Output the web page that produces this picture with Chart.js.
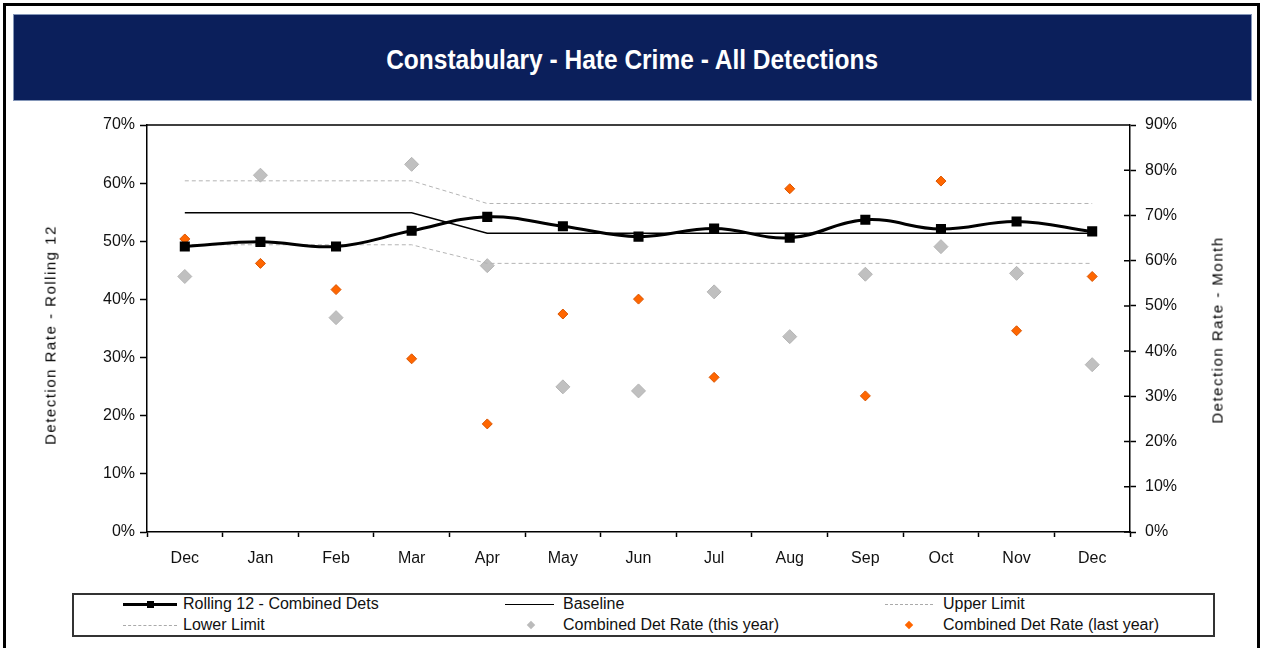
<!DOCTYPE html>
<html>
<head>
<meta charset="utf-8">
<script src="https://cdn.jsdelivr.net/npm/chart.js@4.4.1/dist/chart.umd.min.js"></script>
<style>
  body { margin: 0; width: 1261px; height: 648px; overflow: hidden; background: #fff; position: relative;
         font-family: 'Liberation Sans', Arial, sans-serif; }
  #frame { position: absolute; left: 3px; top: 3px; width: 1251px; height: 700px; border: 3px solid #000; }
  #title { position: absolute; left: 13px; top: 14px; width: 1237px; height: 85px; background: #0b1f5b;
           border: 1px solid #8496b8; display: flex; align-items: center; justify-content: center; }
  #title span { color: #fff; font-weight: bold; font-size: 28px; transform: scaleX(0.875);
                display: inline-block; white-space: nowrap; margin-top: 5px; }
  #wrap { position: absolute; left: 0; top: 101px; width: 1261px; height: 489px; }
  .ytitle { position: absolute; transform: translate(-50%, -50%) rotate(-90deg); white-space: nowrap;
            font-size: 15px; letter-spacing: 1.5px; color: #000; }
  #legend { position: absolute; left: 72px; top: 593px; width: 1139px; height: 40px; border: 2px solid #333; }
  .lt { position: absolute; font-size: 16px; line-height: 18px; color: #111; white-space: nowrap; }
  .ls { position: absolute; }
</style>
</head>
<body>
<div id="frame"></div>
<div id="title"><span>Constabulary - Hate Crime - All Detections</span></div>
<div id="wrap"><canvas id="chart" width="1261" height="489"></canvas></div>
<div class="ytitle" style="left:50px;top:335px">Detection Rate - Rolling 12</div>
<div class="ytitle" style="left:1217px;top:330px">Detection Rate - Month</div>

<div id="legend"></div>
<div class="ls" style="left:123px;top:603px;width:54px;height:3px;background:#000"></div>
<div class="ls" style="left:147px;top:601px;width:7px;height:7px;background:#000"></div>
<div class="lt" style="left:183px;top:595px">Rolling 12 - Combined Dets</div>
<div class="ls" style="left:505px;top:604px;width:49px;height:0;border-top:1.5px solid #000"></div>
<div class="lt" style="left:563px;top:595px">Baseline</div>
<div class="ls" style="left:885px;top:604px;width:48px;height:0;border-top:1px dashed #aaa"></div>
<div class="lt" style="left:943px;top:595px">Upper Limit</div>
<div class="ls" style="left:123px;top:625px;width:54px;height:0;border-top:1px dashed #aaa"></div>
<div class="lt" style="left:183px;top:616px">Lower Limit</div>
<div class="ls" style="left:528px;top:622px;width:6px;height:6px;background:#bbb;transform:rotate(45deg)"></div>
<div class="lt" style="left:563px;top:616px">Combined Det Rate (this year)</div>
<div class="ls" style="left:906px;top:622px;width:6px;height:6px;background:#f60;transform:rotate(45deg)"></div>
<div class="lt" style="left:943px;top:616px">Combined Det Rate (last year)</div>

<script>
'use strict';

const months = ['Dec', 'Jan', 'Feb', 'Mar', 'Apr', 'May', 'Jun', 'Jul', 'Aug', 'Sep', 'Oct', 'Nov', 'Dec'];
// left axis (%)
const rolling12 = [49.1, 49.9, 49.1, 51.8, 54.2, 52.6, 50.8, 52.2, 50.6, 53.7, 52.1, 53.4, 51.7];
const baseline = [54.9, 54.9, 54.9, 54.9, 51.4, 51.4, 51.4, 51.4, 51.4, 51.4, 51.4, 51.4, 51.4];
const upperLimit = [60.4, 60.4, 60.4, 60.4, 56.5, 56.5, 56.5, 56.5, 56.5, 56.5, 56.5, 56.5, 56.5];
const lowerLimit = [49.4, 49.4, 49.4, 49.4, 46.2, 46.2, 46.2, 46.2, 46.2, 46.2, 46.2, 46.2, 46.2];
// right axis (%)
const thisYear = [56.5, 78.9, 47.4, 81.3, 58.9, 32.1, 31.2, 53.1, 43.2, 57.0, 63.1, 57.2, 37.0];
const lastYear = [64.8, 59.4, 53.6, 38.3, 23.9, 48.2, 51.5, 34.2, 75.9, 30.1, 77.6, 44.5, 56.5];

const tickFont = { family: "'Liberation Sans', Arial, sans-serif", size: 16 };

// top edge of the plot box and the inner half of the right axis ticks
const framePlugin = {
  id: 'frame',
  afterDraw(chart) {
    const { ctx, chartArea: a } = chart;
    const y1 = chart.scales.y1;
    ctx.save();
    ctx.strokeStyle = '#000';
    ctx.lineWidth = 1.5;
    ctx.beginPath();
    ctx.moveTo(a.left, a.top);
    ctx.lineTo(a.right, a.top);
    y1.ticks.forEach((t, i) => {
      const yy = y1.getPixelForTick(i);
      ctx.moveTo(a.right - 6, yy);
      ctx.lineTo(a.right, yy);
    });
    ctx.stroke();
    ctx.restore();
  },
};

new Chart(document.getElementById('chart'), {
  type: 'line',
  data: {
    labels: months,
    datasets: [
      { label: 'Rolling 12 - Combined Dets', data: rolling12, yAxisID: 'y', order: 0,
        borderColor: '#000', borderWidth: 3, tension: 0.4,
        pointStyle: 'rect', pointRadius: 5, pointBackgroundColor: '#000', pointBorderColor: '#000' },
      { label: 'Baseline', data: baseline, yAxisID: 'y', order: 1,
        borderColor: '#000', borderWidth: 1.5, pointRadius: 0, tension: 0 },
      { label: 'Upper Limit', data: upperLimit, yAxisID: 'y', order: 2,
        borderColor: '#b4b4b4', borderWidth: 1, borderDash: [4, 3], pointRadius: 0, tension: 0 },
      { label: 'Lower Limit', data: lowerLimit, yAxisID: 'y', order: 2,
        borderColor: '#b4b4b4', borderWidth: 1, borderDash: [4, 3], pointRadius: 0, tension: 0 },
      { label: 'Combined Det Rate (this year)', data: thisYear, yAxisID: 'y1', order: 4, showLine: false,
        pointStyle: 'rectRot', pointRadius: 7, pointBackgroundColor: '#c0c0c0', pointBorderColor: '#b4b4b4', pointBorderWidth: 1 },
      { label: 'Combined Det Rate (last year)', data: lastYear, yAxisID: 'y1', order: 3, showLine: false,
        pointStyle: 'rectRot', pointRadius: 5, pointBackgroundColor: '#ff6600', pointBorderColor: '#d95500', pointBorderWidth: 1 },
    ],
  },
  options: {
    responsive: false,
    animation: false,
    devicePixelRatio: 1,
    layout: { padding: { top: 24, left: 0, right: 0, bottom: 0 } },
    plugins: { legend: { display: false }, tooltip: { enabled: false } },
    scales: {
      x: {
        offset: true,
        afterFit: (s) => { s.height = 58; },
        grid: { offset: true, drawOnChartArea: false, drawTicks: true, tickLength: 5, color: '#000', tickWidth: 1.5 },
        border: { color: '#000', width: 1.5 },
        ticks: { color: '#111', font: tickFont, padding: 12, maxRotation: 0, autoSkip: false },
      },
      y: {
        position: 'left', min: 0, max: 70,
        afterFit: (s) => { s.width = 147; },
        grid: { drawOnChartArea: false, drawTicks: true, tickLength: 7, color: '#000', tickWidth: 1.5 },
        border: { color: '#000', width: 1.5 },
        ticks: { stepSize: 10, color: '#111', font: tickFont, padding: 5, callback: (v) => v + '%' },
      },
      y1: {
        position: 'right', min: 0, max: 90,
        afterFit: (s) => { s.width = 131; },
        grid: { drawOnChartArea: false, drawTicks: true, tickLength: 6, color: '#000', tickWidth: 1.5 },
        border: { color: '#000', width: 1.5 },
        ticks: { stepSize: 10, color: '#111', font: tickFont, padding: 9, callback: (v) => v + '%' },
      },
    },
  },
  plugins: [framePlugin],
});
</script>
</body>
</html>
